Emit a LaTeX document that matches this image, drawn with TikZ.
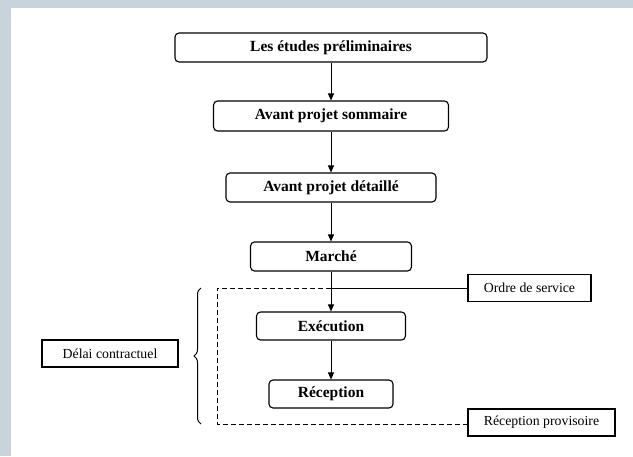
\documentclass[tikz,border=0pt]{standalone}
\usepackage{fontspec}
\setmainfont{Liberation Serif}
\usetikzlibrary{arrows.meta,decorations.pathreplacing}
\definecolor{framegray}{RGB}{200,211,219}
\tikzset{
  stepbox/.style={draw, line width=1.1pt, rounded corners=4pt, fill=white,
    inner sep=0pt, font=\fontsize{15.5}{18}\selectfont\bfseries},
  notebox/.style={draw, line width=1.1pt, fill=white, inner sep=0pt,
    minimum height=27pt, font=\fontsize{13.8}{16}\selectfont},
  flow/.style={line width=1pt, -{Triangle[length=7pt,width=6pt]}}
}
\begin{document}
\begin{tikzpicture}[x=1pt,y=-1pt]
        \fill[framegray] (0,0) rectangle (633,456);
        \fill[white] (11,8) rectangle (633,456);
        \useasboundingbox (0,0) rectangle (633,456);

        \node[stepbox, minimum width=312pt, minimum height=29pt] (etudes) at (331,47.5) {Les études préliminaires};
        \node[stepbox, minimum width=235pt, minimum height=30pt] (aps) at (331,116) {Avant projet sommaire};
        \node[stepbox, minimum width=210pt, minimum height=29pt] (apd) at (331,187.5) {Avant projet détaillé};
        \node[stepbox, minimum width=161pt, minimum height=29pt] (marche) at (331,256.5) {Marché};
        \node[stepbox, minimum width=149pt, minimum height=28pt] (execution) at (331,326) {Exécution};
        \node[stepbox, minimum width=124pt, minimum height=28pt] (reception) at (331,394) {Réception};

        \node[notebox, minimum width=123pt] (ordre) at (529.5,288) {Ordre de service};
        \node[notebox, minimum width=147pt] (provisoire) at (541.5,422.5) {Réception provisoire};
        \node[notebox, minimum width=136pt] (delai) at (110,353.5) {Délai contractuel};

        \coordinate (tl) at (217,288);
        \coordinate (bl) at (217,424);

        % delay frame
        \draw[line width=1pt, dash pattern=on 5pt off 3pt] (tl -| marche) -- (tl) -- (bl) -- (bl -| provisoire.west);
        \draw[line width=1pt] (tl -| marche) -- (ordre.west);
        \draw[line width=1pt, decorate, decoration={brace, amplitude=7pt}] (201,424) -- (201,288);

        \draw[flow] (etudes) -- (aps);
        \draw[flow] (aps) -- (apd);
        \draw[flow] (apd) -- (marche);
        \draw[flow] (marche) -- (execution);
        \draw[flow] (execution) -- (reception);
    \end{tikzpicture}
\end{document}
